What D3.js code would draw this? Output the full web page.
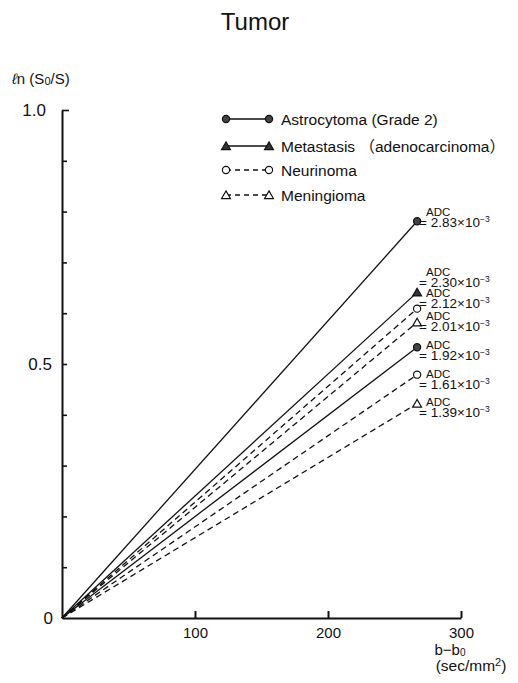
<!DOCTYPE html>
<html>
<head>
<meta charset="utf-8">
<script src="https://cdn.jsdelivr.net/npm/d3@7"></script>
<style>
  html, body { margin: 0; padding: 0; background: #fff; }
  svg { display: block; font-family: "Liberation Sans", Arial, "Noto Sans CJK JP", sans-serif; }
</style>
</head>
<body>
<svg id="chart" width="518" height="683"></svg>
<script>
// Tumour types and their legend labels
const tumorNames = ["Astrocytoma (Grade 2)", "Metastasis （adenocarcinoma）", "Neurinoma", "Meningioma"];
const tumorMarker = ["circle", "triangle", "circle", "triangle"];
const tumorFilled = [true, true, false, false];
const tumorDashed = [false, false, true, true];

// Individual cases: tumour type index, ADC (x10^-3 mm²/sec), ln(S0/S) at the last b value
const caseTumor = [0, 1, 2, 3, 0, 2, 3];
const caseADC = ["2.83", "2.30", "2.12", "2.01", "1.92", "1.61", "1.39"];
const caseLnRatio = [0.781, 0.641, 0.609, 0.582, 0.533, 0.479, 0.422];
const caseB = [0, 267];

// Axis ticks
const xTicks = [100, 200, 300];
const yMinorTicks = [0.1, 0.2, 0.3, 0.4, 0.5, 0.6, 0.7, 0.8, 0.9, 1.0];
const yTickLabels = [0, 0.5, 1.0];

const svg = d3.select("#chart");
const ink = "#111";

const x = d3.scaleLinear().domain([0, 300]).range([62, 461]);
const y = d3.scaleLinear().domain([0, 1]).range([618, 110]);

// Title
svg.append("text").attr("x", 255).attr("y", 30).attr("text-anchor", "middle")
  .attr("font-size", 24).attr("fill", ink).text("Tumor");

// Y axis label
const yl = svg.append("text").attr("x", 12).attr("y", 84).attr("font-size", 15).attr("fill", ink);
yl.append("tspan").attr("font-style", "italic").text("ℓ");
yl.append("tspan").text("n (S");
yl.append("tspan").attr("font-size", 11).attr("dy", 1).text("0");
yl.append("tspan").attr("dy", -1).text("/S)");

// Axes
const xAxis = d3.axisBottom(x).tickValues(xTicks).tickSize(-7).tickSizeOuter(0)
  .tickFormat(d3.format("d"));
const gx = svg.append("g").attr("transform", `translate(0,${y(0)})`).call(xAxis);
gx.select(".domain").attr("stroke", ink).attr("stroke-width", 2);
gx.selectAll(".tick line").attr("stroke", ink).attr("stroke-width", 2);
gx.selectAll(".tick text").attr("font-size", 15).attr("fill", ink).attr("dy", "1.1em")
  .attr("font-family", "Liberation Sans, Arial, sans-serif");

const yAxis = d3.axisLeft(y).tickValues(yMinorTicks).tickSize(-5).tickSizeOuter(0).tickFormat("");
const gy = svg.append("g").attr("transform", `translate(${x(0)},0)`).call(yAxis);
gy.select(".domain").attr("stroke", ink).attr("stroke-width", 2);
gy.selectAll(".tick line").attr("stroke", ink).attr("stroke-width", 1.6)
  .attr("x2", d => d === 1.0 ? 7 : 5);

svg.selectAll("text.ylab").data(yTickLabels).join("text").attr("class", "ylab")
  .attr("x", d => d === 0 ? 53 : (d === 0.5 ? 52 : 46))
  .attr("y", d => y(d) + 6).attr("text-anchor", "end")
  .attr("font-size", 17).attr("fill", ink)
  .text(d => d === 0 ? "0" : d3.format(".1f")(d));

// X axis title
svg.append("text").attr("x", 450).attr("y", 655).attr("text-anchor", "middle")
  .attr("font-size", 15).attr("fill", ink)
  .call(t => { t.append("tspan").text("b−b"); t.append("tspan").attr("font-size", 10).attr("dy", 1).text("0"); });
svg.append("text").attr("x", 471).attr("y", 671).attr("text-anchor", "middle")
  .attr("font-size", 15.5).attr("fill", ink)
  .call(t => {
    t.append("tspan").text("(sec/mm");
    t.append("tspan").attr("font-size", 11).attr("dy", -5).text("2");
    t.append("tspan").attr("dy", 5).text(")");
  });

// Marker drawing
const triPath = d3.symbol().type(d3.symbolTriangle).size(34);
function marker(g, type, filled, cx, cy) {
  if (type === "circle") {
    g.append("circle").attr("cx", cx).attr("cy", cy).attr("r", 3.6)
      .attr("fill", filled ? "#444" : "#fff").attr("stroke", ink).attr("stroke-width", 1.2);
  } else {
    g.append("path").attr("d", triPath).attr("transform", `translate(${cx},${cy + 1})`)
      .attr("fill", filled ? "#333" : "#fff").attr("stroke", ink).attr("stroke-width", 1.2);
  }
}

// Case lines from the origin
const line = d3.line().x(d => x(d[0])).y(d => y(d[1]));
const linesG = svg.append("g");
caseTumor.forEach((t, i) => {
  linesG.append("path")
    .attr("d", line([[caseB[0], 0], [caseB[1], caseLnRatio[i]]]))
    .attr("fill", "none").attr("stroke", ink).attr("stroke-width", 1.3)
    .attr("stroke-dasharray", tumorDashed[t] ? "6,4" : null);
});
caseTumor.forEach((t, i) => {
  marker(linesG, tumorMarker[t], tumorFilled[t], x(caseB[1]), y(caseLnRatio[i]));
});

// ADC annotations; vertical shifts keep the stacked labels apart
const labelShift = [-5, -16, -12, -2, 2, 3, 2];
const labG = svg.append("g").attr("fill", ink);
caseADC.forEach((v, i) => {
  const mx = x(caseB[1]), my = y(caseLnRatio[i]);
  const by = my + labelShift[i];
  labG.append("text").attr("x", mx + 9).attr("y", by).attr("font-size", 11.5).text("ADC");
  const vt = labG.append("text").attr("x", mx + 2).attr("y", by + 11).attr("font-size", 13.5);
  vt.append("tspan").text("= " + v + "×10");
  vt.append("tspan").attr("font-size", 8.5).attr("dy", -5).text("−3");
});

// Legend
const legG = svg.append("g");
tumorNames.forEach((name, i) => {
  const ly = [119, 146, 170, 195][i];
  legG.append("line").attr("x1", 226).attr("x2", 269).attr("y1", ly).attr("y2", ly)
    .attr("stroke", ink).attr("stroke-width", 1.3)
    .attr("stroke-dasharray", tumorDashed[i] ? "5,4" : null);
  marker(legG, tumorMarker[i], tumorFilled[i], 226, ly);
  marker(legG, tumorMarker[i], tumorFilled[i], 269, ly);
  legG.append("text").attr("x", 281).attr("y", ly + 5.5).attr("font-size", 15.5)
    .attr("fill", ink).attr("xml:space", "preserve").text(name);
});
</script>
</body>
</html>
